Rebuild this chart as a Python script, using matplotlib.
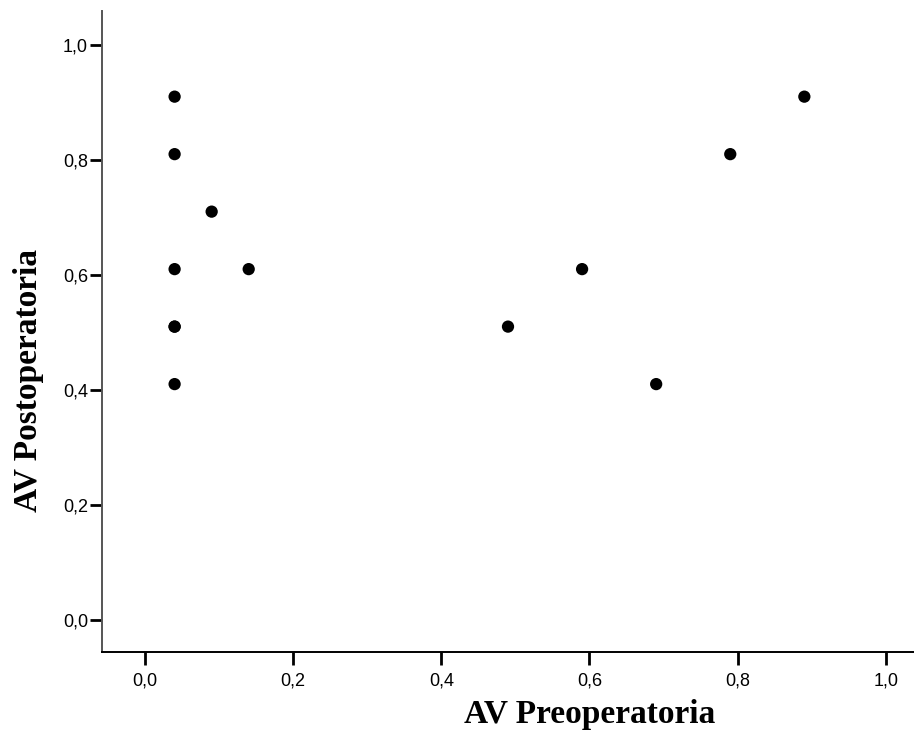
import matplotlib
matplotlib.use("Agg")
import matplotlib.pyplot as plt
from matplotlib.ticker import FuncFormatter

# visual acuity data
av_pre = [0.04, 0.04, 0.09, 0.04, 0.14, 0.04, 0.04, 0.04, 0.49, 0.59, 0.69, 0.79, 0.89]
av_post = [0.91, 0.81, 0.71, 0.61, 0.61, 0.51, 0.51, 0.41, 0.51, 0.61, 0.41, 0.81, 0.91]
ticks = [0.0, 0.2, 0.4, 0.6, 0.8, 1.0]

fig = plt.figure(figsize=(9.14, 7.33), dpi=100)
ax = fig.add_axes([0.1116, 0.1105, 0.8884, 0.8745])

ax.scatter(av_pre, av_post, s=78, color="black", edgecolors="none", zorder=3)

ax.set_xlim(-0.058, 1.038)
ax.set_ylim(-0.056, 1.059)
ax.set_xticks(ticks)
ax.set_yticks(ticks)
comma = FuncFormatter(lambda v, p: f"{v:.1f}".replace(".", ","))
ax.xaxis.set_major_formatter(comma)
ax.yaxis.set_major_formatter(comma)

for side in ["top", "right"]:
    ax.spines[side].set_visible(False)
ax.spines["left"].set_color("#555555")
ax.spines["left"].set_linewidth(1.4)
ax.spines["bottom"].set_color("black")
ax.spines["bottom"].set_linewidth(1.4)

ax.tick_params(axis="both", direction="out", length=9, width=2, color="black",
               labelsize=13, labelfontfamily="Liberation Sans")
ax.tick_params(axis="x", pad=6)
ax.tick_params(axis="y", pad=1)

ax.set_xlabel("AV Preoperatoria", fontfamily="Liberation Serif", fontweight="bold", fontsize=24)
ax.set_ylabel("AV Postoperatoria", fontfamily="Liberation Serif", fontweight="bold", fontsize=24)
ax.xaxis.set_label_coords(0.601, -0.074)
ax.yaxis.set_label_coords(-0.072, 0.424)

fig.savefig("out.png", dpi=100)
